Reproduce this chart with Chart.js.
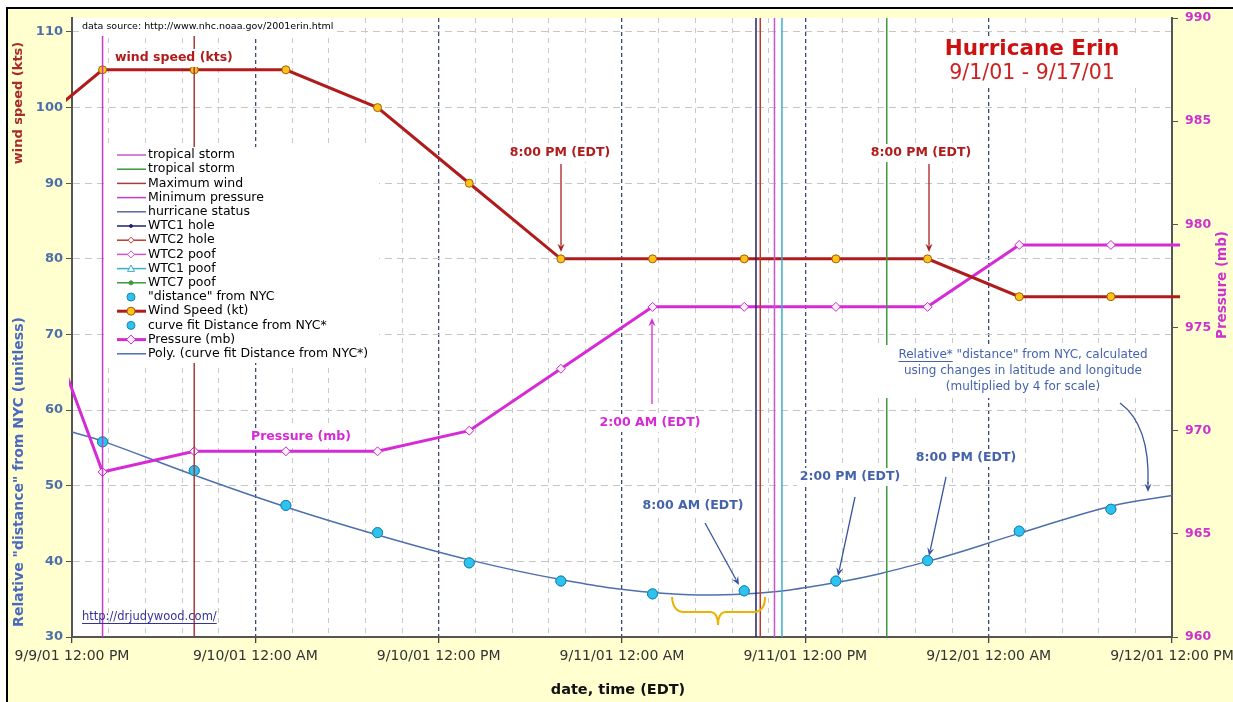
<!DOCTYPE html>
<html>
<head>
<meta charset="utf-8">
<script src="https://cdn.jsdelivr.net/npm/chart.js@4.4.0/dist/chart.umd.min.js"></script>
<style>
  html, body { margin: 0; padding: 0; background: #fff; }
  canvas { display: block; }
</style>
</head>
<body>
<canvas id="erinChart" width="1233" height="702"></canvas>
<script>
// all times are hours after 9/9/01 12:00 PM (EDT)
const hours = [-4, 2, 8, 14, 20, 26, 32, 38, 44, 50, 56, 62, 68, 74];
const windKts = [95, 105, 105, 105, 100, 90, 80, 80, 80, 80, 80, 75, 75, 75];
const pressureMb = [980, 968, 969, 969, 969, 970, 973, 976, 976, 976, 976, 979, 979, 979];

const distHours = [2, 8, 14, 20, 26, 32, 38, 44, 50, 56, 62, 68];
const distance = [55.8, 52.0, 47.4, 43.8, 39.8, 37.4, 35.7, 36.1, 37.4, 40.1, 44.0, 46.9];

// poly trend line
const fitHours = [0, 2, 8, 14, 20, 26, 32, 38, 44, 50, 56, 62, 68, 72];
const fitDistance = [57.1, 55.9, 51.4, 47.2, 43.5, 40.2, 37.6, 35.9, 35.7, 37.2, 40.0, 43.7, 47.3, 48.7];

// vertical event lines
const eventNames = ['Maximum wind', 'Minimum pressure', 'WTC1 hole', 'WTC2 hole', 'WTC2 poof', 'WTC1 poof', 'WTC7 poof'];
const eventHours = [8, 2, 44.77, 45.05, 45.98, 46.47, 53.33];

const xTickLabels = ['9/9/01 12:00 PM', '9/10/01 12:00 AM', '9/10/01 12:00 PM', '9/11/01 12:00 AM',
                     '9/11/01 12:00 PM', '9/12/01 12:00 AM', '9/12/01 12:00 PM'];

const Y_MIN = 30, Y_MAX = 111.85;

Chart.defaults.font.family = '"DejaVu Sans", sans-serif';

function pairs(xs, ys) { return xs.map((x, i) => ({ x: x, y: ys[i] })); }
function eventLine(name) {
  const h = eventHours[eventNames.indexOf(name)];
  return [{ x: h, y: Y_MIN }, { x: h, y: Y_MAX }];
}
function isMajor(v) { return Math.abs(Math.round(v * 10) % 120) === 0; }

// legend order = dataset order
const datasets = [
  { label: 'tropical storm', data: [], borderColor: '#c65ac6', borderWidth: 1.5 },
  { label: 'tropical storm', data: [], borderColor: '#3d9a3d', borderWidth: 1.5 },
  { label: 'Maximum wind', data: eventLine('Maximum wind'), borderColor: '#a83a3a', borderWidth: 1.5 },
  { label: 'Minimum pressure', data: eventLine('Minimum pressure'), borderColor: '#c33cc3', borderWidth: 1.5 },
  { label: 'hurricane status', data: [], borderColor: '#5a6a9a', borderWidth: 1.5 },
  { label: 'WTC1 hole', data: eventLine('WTC1 hole'), borderColor: '#22226e', borderWidth: 1.5,
    mark: { shape: 'circle', r: 1.5, fill: '#22226e', stroke: '#22226e' } },
  { label: 'WTC2 hole', data: eventLine('WTC2 hole'), borderColor: '#c0392b', borderWidth: 1.5,
    mark: { shape: 'diamond', r: 3, fill: '#fff', stroke: '#c0392b' } },
  { label: 'WTC2 poof', data: eventLine('WTC2 poof'), borderColor: '#cc55cc', borderWidth: 1.5,
    mark: { shape: 'diamond', r: 3.5, fill: '#fff', stroke: '#cc55cc' } },
  { label: 'WTC1 poof', data: eventLine('WTC1 poof'), borderColor: '#3aaed0', borderWidth: 1.5,
    mark: { shape: 'triangle', r: 3.5, fill: '#fff', stroke: '#3aaed0' } },
  { label: 'WTC7 poof', data: eventLine('WTC7 poof'), borderColor: '#3d9a3d', borderWidth: 1.5,
    mark: { shape: 'circle', r: 2, fill: '#3d9a3d', stroke: '#3d9a3d' } },
  { label: '"distance" from NYC', data: pairs(distHours, distance), showLine: false,
    pointRadius: 5, pointBackgroundColor: '#2ec3ef', pointBorderColor: '#1b86b5', pointBorderWidth: 1,
    mark: { shape: 'circle', r: 4, fill: '#2ec3ef', stroke: '#1b86b5' } },
  { label: 'Wind Speed (kt)', data: pairs(hours, windKts), borderColor: '#b01c1c', borderWidth: 3,
    pointRadius: 4, pointBackgroundColor: '#ffc21a', pointBorderColor: '#a06000', pointBorderWidth: 1,
    clip: { left: 6, right: 8, top: 0, bottom: 0 },
    mark: { shape: 'circle', r: 4, fill: '#ffc21a', stroke: '#a06000' } },
  { label: 'curve fit Distance from NYC*', data: pairs(distHours, distance), showLine: false,
    pointRadius: 5, pointBackgroundColor: '#2ec3ef', pointBorderColor: '#1b86b5', pointBorderWidth: 1,
    mark: { shape: 'circle', r: 4, fill: '#2ec3ef', stroke: '#1b86b5' } },
  { label: 'Pressure (mb)', data: pairs(hours, pressureMb), yAxisID: 'y2', borderColor: '#d62ad6', borderWidth: 3,
    pointStyle: 'rectRot', pointRadius: 4.5, pointBackgroundColor: '#fff0ff', pointBorderColor: '#c828c8', pointBorderWidth: 1,
    clip: { left: 3, right: 8, top: 0, bottom: 0 },
    mark: { shape: 'diamond', r: 4.5, fill: '#fff0ff', stroke: '#c828c8' } },
  { label: 'Poly. (curve fit Distance from NYC*)', data: pairs(fitHours, fitDistance), borderColor: '#4d6fae',
    borderWidth: 1.5, tension: 0.4 }
];
datasets.forEach(ds => {
  if (!ds.yAxisID) ds.yAxisID = 'y';
  if (ds.pointRadius === undefined) ds.pointRadius = 0;
  ds.pointHoverRadius = ds.pointRadius;
  ds.fill = false;
});

function drawMark(ctx, m, x, y) {
  ctx.beginPath();
  if (m.shape === 'circle') {
    ctx.arc(x, y, m.r, 0, Math.PI * 2);
  } else if (m.shape === 'diamond') {
    ctx.moveTo(x, y - m.r); ctx.lineTo(x + m.r, y); ctx.lineTo(x, y + m.r); ctx.lineTo(x - m.r, y);
    ctx.closePath();
  } else {
    ctx.moveTo(x, y - m.r); ctx.lineTo(x + m.r, y + m.r * 0.8); ctx.lineTo(x - m.r, y + m.r * 0.8);
    ctx.closePath();
  }
  ctx.fillStyle = m.fill; ctx.fill();
  ctx.lineWidth = 1; ctx.strokeStyle = m.stroke; ctx.stroke();
}

function arrow(ctx, x1, y1, x2, y2, color, w) {
  const a = Math.atan2(y2 - y1, x2 - x1), s = 9;
  ctx.strokeStyle = color; ctx.fillStyle = color; ctx.lineWidth = w || 1.3;
  ctx.beginPath(); ctx.moveTo(x1, y1);
  ctx.lineTo(x2 - Math.cos(a) * s * 0.7, y2 - Math.sin(a) * s * 0.7); ctx.stroke();
  ctx.beginPath(); ctx.moveTo(x2, y2);
  ctx.lineTo(x2 - s * Math.cos(a - 0.4), y2 - s * Math.sin(a - 0.4));
  ctx.lineTo(x2 - s * 0.6 * Math.cos(a), y2 - s * 0.6 * Math.sin(a));
  ctx.lineTo(x2 - s * Math.cos(a + 0.4), y2 - s * Math.sin(a + 0.4));
  ctx.closePath(); ctx.fill();
}

function text(ctx, str, x, y, font, color, align, bg, underlineTo) {
  ctx.font = font; ctx.textAlign = align || 'center'; ctx.textBaseline = 'middle';
  const w = ctx.measureText(str).width;
  const left = align === 'left' ? x : x - w / 2;
  if (bg) { ctx.fillStyle = '#fff'; ctx.fillRect(left - 3, y - 9, w + 6, 18); }
  ctx.fillStyle = color; ctx.fillText(str, x, y);
  if (underlineTo) {
    const uw = ctx.measureText(underlineTo).width;
    ctx.fillRect(left, y + 6, uw, 1);
  }
}

const backdrop = {
  id: 'backdrop',
  beforeDraw(chart) {
    const { ctx, chartArea: a } = chart;
    ctx.save();
    ctx.fillStyle = '#fff'; ctx.fillRect(0, 0, chart.width, chart.height);
    ctx.fillStyle = '#ffffcf'; ctx.fillRect(7, 8, chart.width, chart.height);
    ctx.strokeStyle = '#000'; ctx.lineWidth = 2;
    ctx.beginPath(); ctx.moveTo(7, chart.height); ctx.lineTo(7, 8); ctx.lineTo(chart.width, 8); ctx.stroke();
    ctx.fillStyle = '#fff'; ctx.fillRect(a.left, a.top, a.right - a.left, a.bottom - a.top);
    ctx.restore();
  }
};

const boxLegend = {
  id: 'boxLegend',
  afterDatasetsDraw(chart) {
    const ctx = chart.ctx;
    ctx.save();
    ctx.fillStyle = '#fff';
    ctx.fillRect(107, 147, 272, 216);
    chart.data.datasets.forEach((ds, i) => {
      const y = 155 + i * 14.2;
      if (ds.showLine !== false) {
        ctx.strokeStyle = ds.borderColor; ctx.lineWidth = ds.borderWidth;
        ctx.beginPath(); ctx.moveTo(117, y); ctx.lineTo(146, y); ctx.stroke();
      }
      if (ds.mark) drawMark(ctx, ds.mark, 131, y);
      ctx.font = '12.5px "DejaVu Sans"'; ctx.textAlign = 'left'; ctx.textBaseline = 'middle';
      ctx.fillStyle = '#000';
      ctx.fillText(ds.label, 148, y);
    });
    ctx.restore();
  }
};

const notes = {
  id: 'notes',
  afterDraw(chart) {
    const ctx = chart.ctx;
    const red = '#b01c1c', mag = '#d62ad6', blue = '#4563ad';
    const bold = 'bold 12.5px "DejaVu Sans"';
    ctx.save();

    text(ctx, 'data source: http://www.nhc.noaa.gov/2001erin.html', 82, 27, '9.5px "DejaVu Sans"', '#000', 'left', true);
    text(ctx, 'wind speed (kts)', 115, 58, bold, red, 'left', true);
    text(ctx, 'Pressure (mb)', 251, 437, bold, mag, 'left', true);

    // title
    ctx.fillStyle = '#fff'; ctx.fillRect(936, 36, 232, 50);
    text(ctx, 'Hurricane Erin', 1032, 49, 'bold 21.5px "DejaVu Sans"', '#cc1111');
    text(ctx, '9/1/01 - 9/17/01', 1032, 74, '20.5px "DejaVu Sans"', '#cc2222');

    text(ctx, '8:00 PM (EDT)', 560, 153, bold, red, 'center', true);
    arrow(ctx, 561, 164, 561, 252, '#a82020');
    text(ctx, '8:00 PM (EDT)', 921, 153, bold, red, 'center', true);
    arrow(ctx, 929, 164, 929, 252, '#a82020');

    text(ctx, '2:00 AM (EDT)', 650, 423, bold, mag, 'center', true);
    arrow(ctx, 652, 404, 652, 318, mag);

    text(ctx, '8:00 AM (EDT)', 693, 506, bold, blue, 'center', true);
    arrow(ctx, 705, 523, 739, 585, '#3a55a0');
    text(ctx, '2:00 PM (EDT)', 850, 477, bold, blue, 'center', true);
    arrow(ctx, 855, 497, 838, 576, '#3a55a0');
    text(ctx, '8:00 PM (EDT)', 966, 458, bold, blue, 'center', true);
    arrow(ctx, 946, 477, 929, 556, '#3a55a0');

    // note about the distance series
    ctx.fillStyle = '#fff'; ctx.fillRect(872, 345, 298, 53);
    const nf = '12px "DejaVu Sans"';
    text(ctx, 'Relative* "distance" from NYC, calculated', 1023, 355, nf, blue, 'center', false, 'Relative*');
    text(ctx, 'using changes in latitude and longitude', 1023, 371, nf, blue);
    text(ctx, '(multiplied by 4 for scale)', 1023, 387, nf, blue);

    // curved pointer
    ctx.strokeStyle = '#3a55a0'; ctx.lineWidth = 1.3;
    ctx.beginPath(); ctx.moveTo(1120, 403); ctx.quadraticCurveTo(1150, 425, 1148, 484); ctx.stroke();
    arrow(ctx, 1148, 482, 1148, 492, '#3a55a0');

    // yellow brace under the flat part of the curve
    ctx.strokeStyle = '#e8b400'; ctx.lineWidth = 2;
    ctx.beginPath();
    ctx.moveTo(672, 597); ctx.quadraticCurveTo(673, 612, 684, 612);
    ctx.lineTo(711, 612); ctx.quadraticCurveTo(718, 613, 718, 625);
    ctx.quadraticCurveTo(718, 613, 725, 612);
    ctx.lineTo(755, 612); ctx.quadraticCurveTo(765, 611, 765, 597);
    ctx.stroke();

    text(ctx, 'http://drjudywood.com/', 82, 617, '11.5px "DejaVu Sans"', '#333399', 'left', false, 'http://drjudywood.com/');

    // axis titles
    const rot = (str, x, y, font, color, ang) => {
      ctx.save(); ctx.translate(x, y); ctx.rotate(ang);
      text(ctx, str, 0, 0, font, color); ctx.restore();
    };
    rot('wind speed (kts)', 19, 103, 'bold 13px "DejaVu Sans"', '#a82a2a', -Math.PI / 2);
    rot('Relative "distance" from NYC (unitless)', 19, 472, 'bold 14px "DejaVu Sans"', '#4a6ac0', -Math.PI / 2);
    rot('Pressure (mb)', 1222, 285, 'bold 13.5px "DejaVu Sans"', '#cc33cc', -Math.PI / 2);
    text(ctx, 'date, time (EDT)', 618, 690, 'bold 14.5px "DejaVu Sans"', '#111');

    ctx.restore();
  }
};

new Chart(document.getElementById('erinChart'), {
  type: 'line',
  data: { datasets: datasets },
  options: {
    responsive: false,
    animation: false,
    layout: { padding: { top: 18, left: 0, right: 0, bottom: 0 } },
    plugins: { legend: { display: false }, tooltip: { enabled: false } },
    scales: {
      x: {
        type: 'linear', min: 0, max: 72,
        // fixed height, and let the end labels overhang the side axes
        afterFit: s => { s.height = 65; s.paddingLeft = 0; s.paddingRight = 0; },
        ticks: {
          stepSize: 2.4, autoSkip: false, maxRotation: 0, padding: 5,
          color: '#333', font: { size: 14 },
          callback: v => isMajor(v) ? xTickLabels[Math.round(v / 12)] : ''
        },
        grid: {
          color: c => (c.tick && isMajor(c.tick.value)) ? '#3d4a78' : '#c9c9c9',
          lineWidth: c => (c.tick && isMajor(c.tick.value)) ? 1.3 : 1,
          tickColor: c => (c.tick && isMajor(c.tick.value)) ? '#444' : 'rgba(0,0,0,0)',
          tickLength: 6
        },
        border: { color: '#555', width: 2, dash: c => (c.tick && isMajor(c.tick.value)) ? [4, 3] : [5, 5] }
      },
      y: {
        position: 'left', min: Y_MIN, max: Y_MAX,
        afterFit: s => { s.width = 72; },
        ticks: { stepSize: 10, includeBounds: false, padding: 3, color: '#4d6fa8', font: { size: 13, weight: 'bold' } },
        grid: { color: '#c6c6c6', tickColor: '#555', tickLength: 6 },
        border: { color: '#555', width: 2, dash: [7, 5] }
      },
      y2: {
        position: 'right', min: 960, max: 990,
        afterFit: s => { s.width = 61; },
        ticks: { stepSize: 5, padding: 7, color: '#cc33cc', font: { size: 12.5, weight: 'bold' } },
        grid: { drawOnChartArea: false, tickColor: '#555', tickLength: 6 },
        border: { color: '#555', width: 2 }
      }
    }
  },
  plugins: [backdrop, boxLegend, notes]
});
</script>
</body>
</html>
